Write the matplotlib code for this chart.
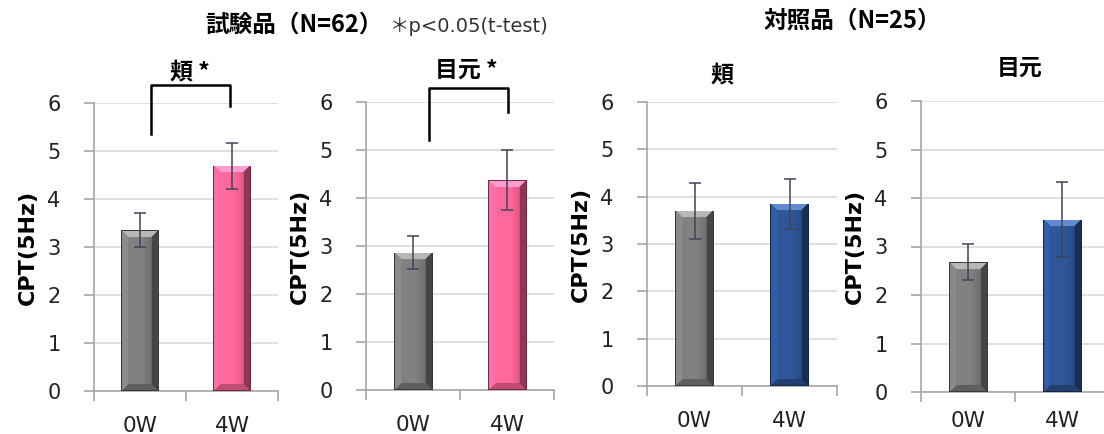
import numpy as np
import matplotlib.pyplot as plt
from matplotlib.colors import to_rgb

plt.rcParams['font.family'] = ['DejaVu Sans', 'Noto Sans CJK JP']

labels = ['0W', '4W']
titles = ['頬 *', '目元 *', '頬', '目元']
means = [[3.35, 4.69], [2.86, 4.37], [3.70, 3.85], [2.68, 3.55]]
errs = [[0.36, 0.48], [0.34, 0.63], [0.59, 0.53], [0.38, 0.77]]
bar_colors = [['#7f7f7f', '#ff6699'], ['#7f7f7f', '#ff6699'],
              ['#7f7f7f', '#2f5597'], ['#7f7f7f', '#2f5597']]

W, H = 1104, 434
# axes boxes in pixels: left, right, top, bottom
boxes = [(94, 278, 103, 391), (366, 554, 102, 390),
         (647, 837, 102, 386), (921, 1109, 101, 392)]
# title centre in pixels
title_xy = [(190, 72), (466, 70), (722, 75), (1020, 68)]

fig = plt.figure(figsize=(W / 100, H / 100), dpi=100)
grid_c = '#d9d9d9'
axis_c = '#a6a6a6'
cjk = ['Noto Sans CJK JP', 'DejaVu Sans']


def bevel_image(color, wpx, hpx, bev=7):
    base = np.array(to_rgb(color))
    nx, ny = max(int(wpx), 2), max(int(hpx), 2)
    xs = (np.arange(nx) + 0.5)
    ys = (np.arange(ny) + 0.5)
    X, Y = np.meshgrid(xs, ys)  # Y from top
    d = np.stack([X, nx - X, Y, ny - Y])
    near = d.argmin(axis=0)
    dmin = d.min(axis=0)
    u = X / nx
    fac = 1.02 - 0.25 * np.clip((u - 0.55) / 0.45, 0, 1)
    inb = dmin < bev
    shade = np.array([1.1, 0.55, 1.3, 0.75])
    fac[inb] = shade[near[inb]]
    fac[dmin < 1.2] = 0.45
    img = np.clip(base[None, None, :] * fac[..., None], 0, 1)
    topm = inb & (near == 2) & (dmin >= 1.2)
    img[topm] = np.clip(img[topm] * 0.8 + 0.2, 0, 1)
    return img


for i in range(4):
    l, r, t, b = boxes[i]
    ax = fig.add_axes([l / W, (H - b) / H, (r - l) / W, (b - t) / H])
    x = np.arange(len(labels))
    bars = ax.bar(x, means[i], width=0.41, color=bar_colors[i], zorder=2)
    ax.errorbar(x, means[i], yerr=errs[i], fmt='none', ecolor='#3b4556',
                elinewidth=1.1, capsize=4.5, capthick=1.1, zorder=4)
    ax.set_xlim(-0.5, 1.5)
    ax.set_ylim(0, 6)
    ax.set_yticks(range(7))
    ax.yaxis.grid(True, color=grid_c, lw=1.2, zorder=0)
    ax.set_axisbelow(True)
    for s in ['top', 'right']:
        ax.spines[s].set_visible(False)
    for s in ['left', 'bottom']:
        ax.spines[s].set_color(axis_c)
        ax.spines[s].set_linewidth(1.2)
    ax.set_xticks(x)
    ax.set_xticklabels(labels, fontsize=15.5, color='#222222')
    ax.set_xticks([-0.5, 0.5, 1.5], minor=True)
    ax.tick_params(axis='x', which='major', length=0, pad=18 if i < 3 else 14)
    ax.tick_params(axis='x', which='minor', length=7, color=axis_c, width=1.2)
    ax.tick_params(axis='y', length=7, color=axis_c, width=1.2, pad=17,
                   labelsize=15, labelcolor='#222222')
    ax.set_ylabel('CPT(5Hz)', fontsize=16, fontweight='bold')
    ax.yaxis.set_label_coords(-56 / (r - l), 0.5)

    # bevelled fill for each bar
    for p, c in zip(bars.patches, bar_colors[i]):
        x0, y0 = p.get_x(), p.get_y()
        x1, y1 = x0 + p.get_width(), y0 + p.get_height()
        (px0, py0), (px1, py1) = ax.transData.transform([(x0, y0), (x1, y1)])
        img = bevel_image(c, px1 - px0, py1 - py0)
        im = ax.imshow(img, extent=(x0, x1, y0, y1), aspect='auto',
                       interpolation='bilinear', zorder=3)
        im.set_clip_path(p)
    ax.set_xlim(-0.5, 1.5)
    ax.set_ylim(0, 6)

    tx, ty = title_xy[i]
    fig.text(tx / W, 1 - ty / H, titles[i], ha='center', va='center',
             fontsize=16.5, fontweight='bold', family=cjk)

    # significance brackets
    if i == 0:
        ax.plot([0.12, 0.12, 0.98, 0.98], [5.35, 6.37, 6.37, 5.94],
                color='black', lw=1.8, clip_on=False, zorder=5)
    if i == 1:
        ax.plot([0.17, 0.17, 1.01, 1.01], [5.2, 6.29, 6.29, 5.79],
                color='black', lw=1.8, clip_on=False, zorder=5)

fig.text(294 / W, 1 - 25 / H, '試験品（N=62）', ha='center', va='center',
         fontsize=17, fontweight='bold', family=cjk)
fig.text(390 / W, 1 - 27 / H, '＊p<0.05(t-test)', ha='left', va='center',
         fontsize=14, color='#333333')
fig.text(852 / W, 1 - 21 / H, '対照品（N=25）', ha='center', va='center',
         fontsize=17, fontweight='bold', family=cjk)

fig.savefig('out.png', dpi=100)
